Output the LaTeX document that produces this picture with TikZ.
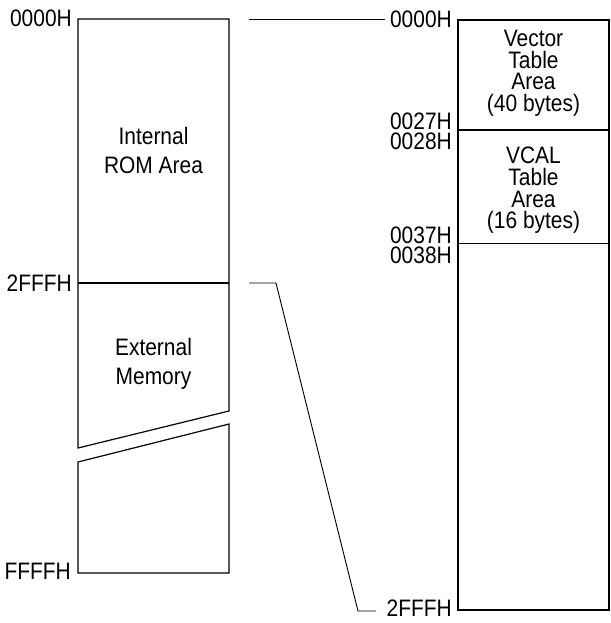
\documentclass[tikz,border=0pt]{standalone}
\usepackage{fontspec}
\setmainfont[FakeStretch=0.88]{Liberation Sans}
\begin{document}
\begin{tikzpicture}[x=1pt,y=-1pt,
  box/.style={draw=black,line width=1.2pt,line join=miter},
  conn/.style={draw=black,line width=0.9pt},
  addr/.style={inner sep=0pt,font=\fontsize{23.8}{26}\selectfont},
  areatxt/.style={inner sep=0pt,align=center,anchor=north,font=\fontsize{23.8}{21.7}\selectfont},
  bigtxt/.style={inner sep=0pt,align=center,anchor=north,font=\fontsize{23.8}{29}\selectfont}]
\useasboundingbox (0,0) rectangle (610,623);
% left map
\draw[box] (78,19) -- (229,19) -- (229,411) -- (78,448) -- cycle;
\draw[box] (78,283) -- (229,283);
\draw[box] (78,462) -- (229,424) -- (229,573) -- (78,573) -- cycle;
\coordinate (lt) at (229,19);
\coordinate (lm) at (229,283);
% right map
\draw[box] (458,20) rectangle (609,610);
\draw[box] (458,130) -- (609,130);
\draw[box] (458,243.5) -- (609,243.5);
% texts
\node[bigtxt] (rom) at (153.5,127) {Internal\\ROM Area};
\node[bigtxt] (ext) at (153.5,338) {External\\Memory};
\node[areatxt] (vec) at (533.5,30) {Vector\\Table\\Area\\(40 bytes)};
\node[areatxt] (vcal) at (533.5,147) {VCAL\\Table\\Area\\(16 bytes)};
% address labels
\node[addr,anchor=east] (l0) at (72,18.5) {0000H};
\node[addr,anchor=east] (l2) at (72,283.5) {2FFFH};
\node[addr,anchor=east] (lf) at (71,571) {FFFFH};
\node[addr,anchor=east] (r0) at (452,19.5) {0000H};
\node[addr,anchor=south east] (r27) at (452,130) {0027H};
\node[addr,anchor=north east] (r28) at (452,133) {0028H};
\node[addr,anchor=south east] (r37) at (452,244) {0037H};
\node[addr,anchor=north east] (r38) at (452,247) {0038H};
\node[addr,anchor=east] (r2) at (452,608.5) {2FFFH};
% connectors
\coordinate (t1) at (249,19);
\coordinate (t2) at (385,19);
\coordinate (m1) at (249,283);
\coordinate (m2) at (276,283);
\coordinate (m3) at (358,611);
\coordinate (m4) at (376,611);
\draw[conn] (t1) -- (t2);
\draw[conn] (m1) -- (m2) -- (m3) -- (m4);
\end{tikzpicture}
\end{document}
